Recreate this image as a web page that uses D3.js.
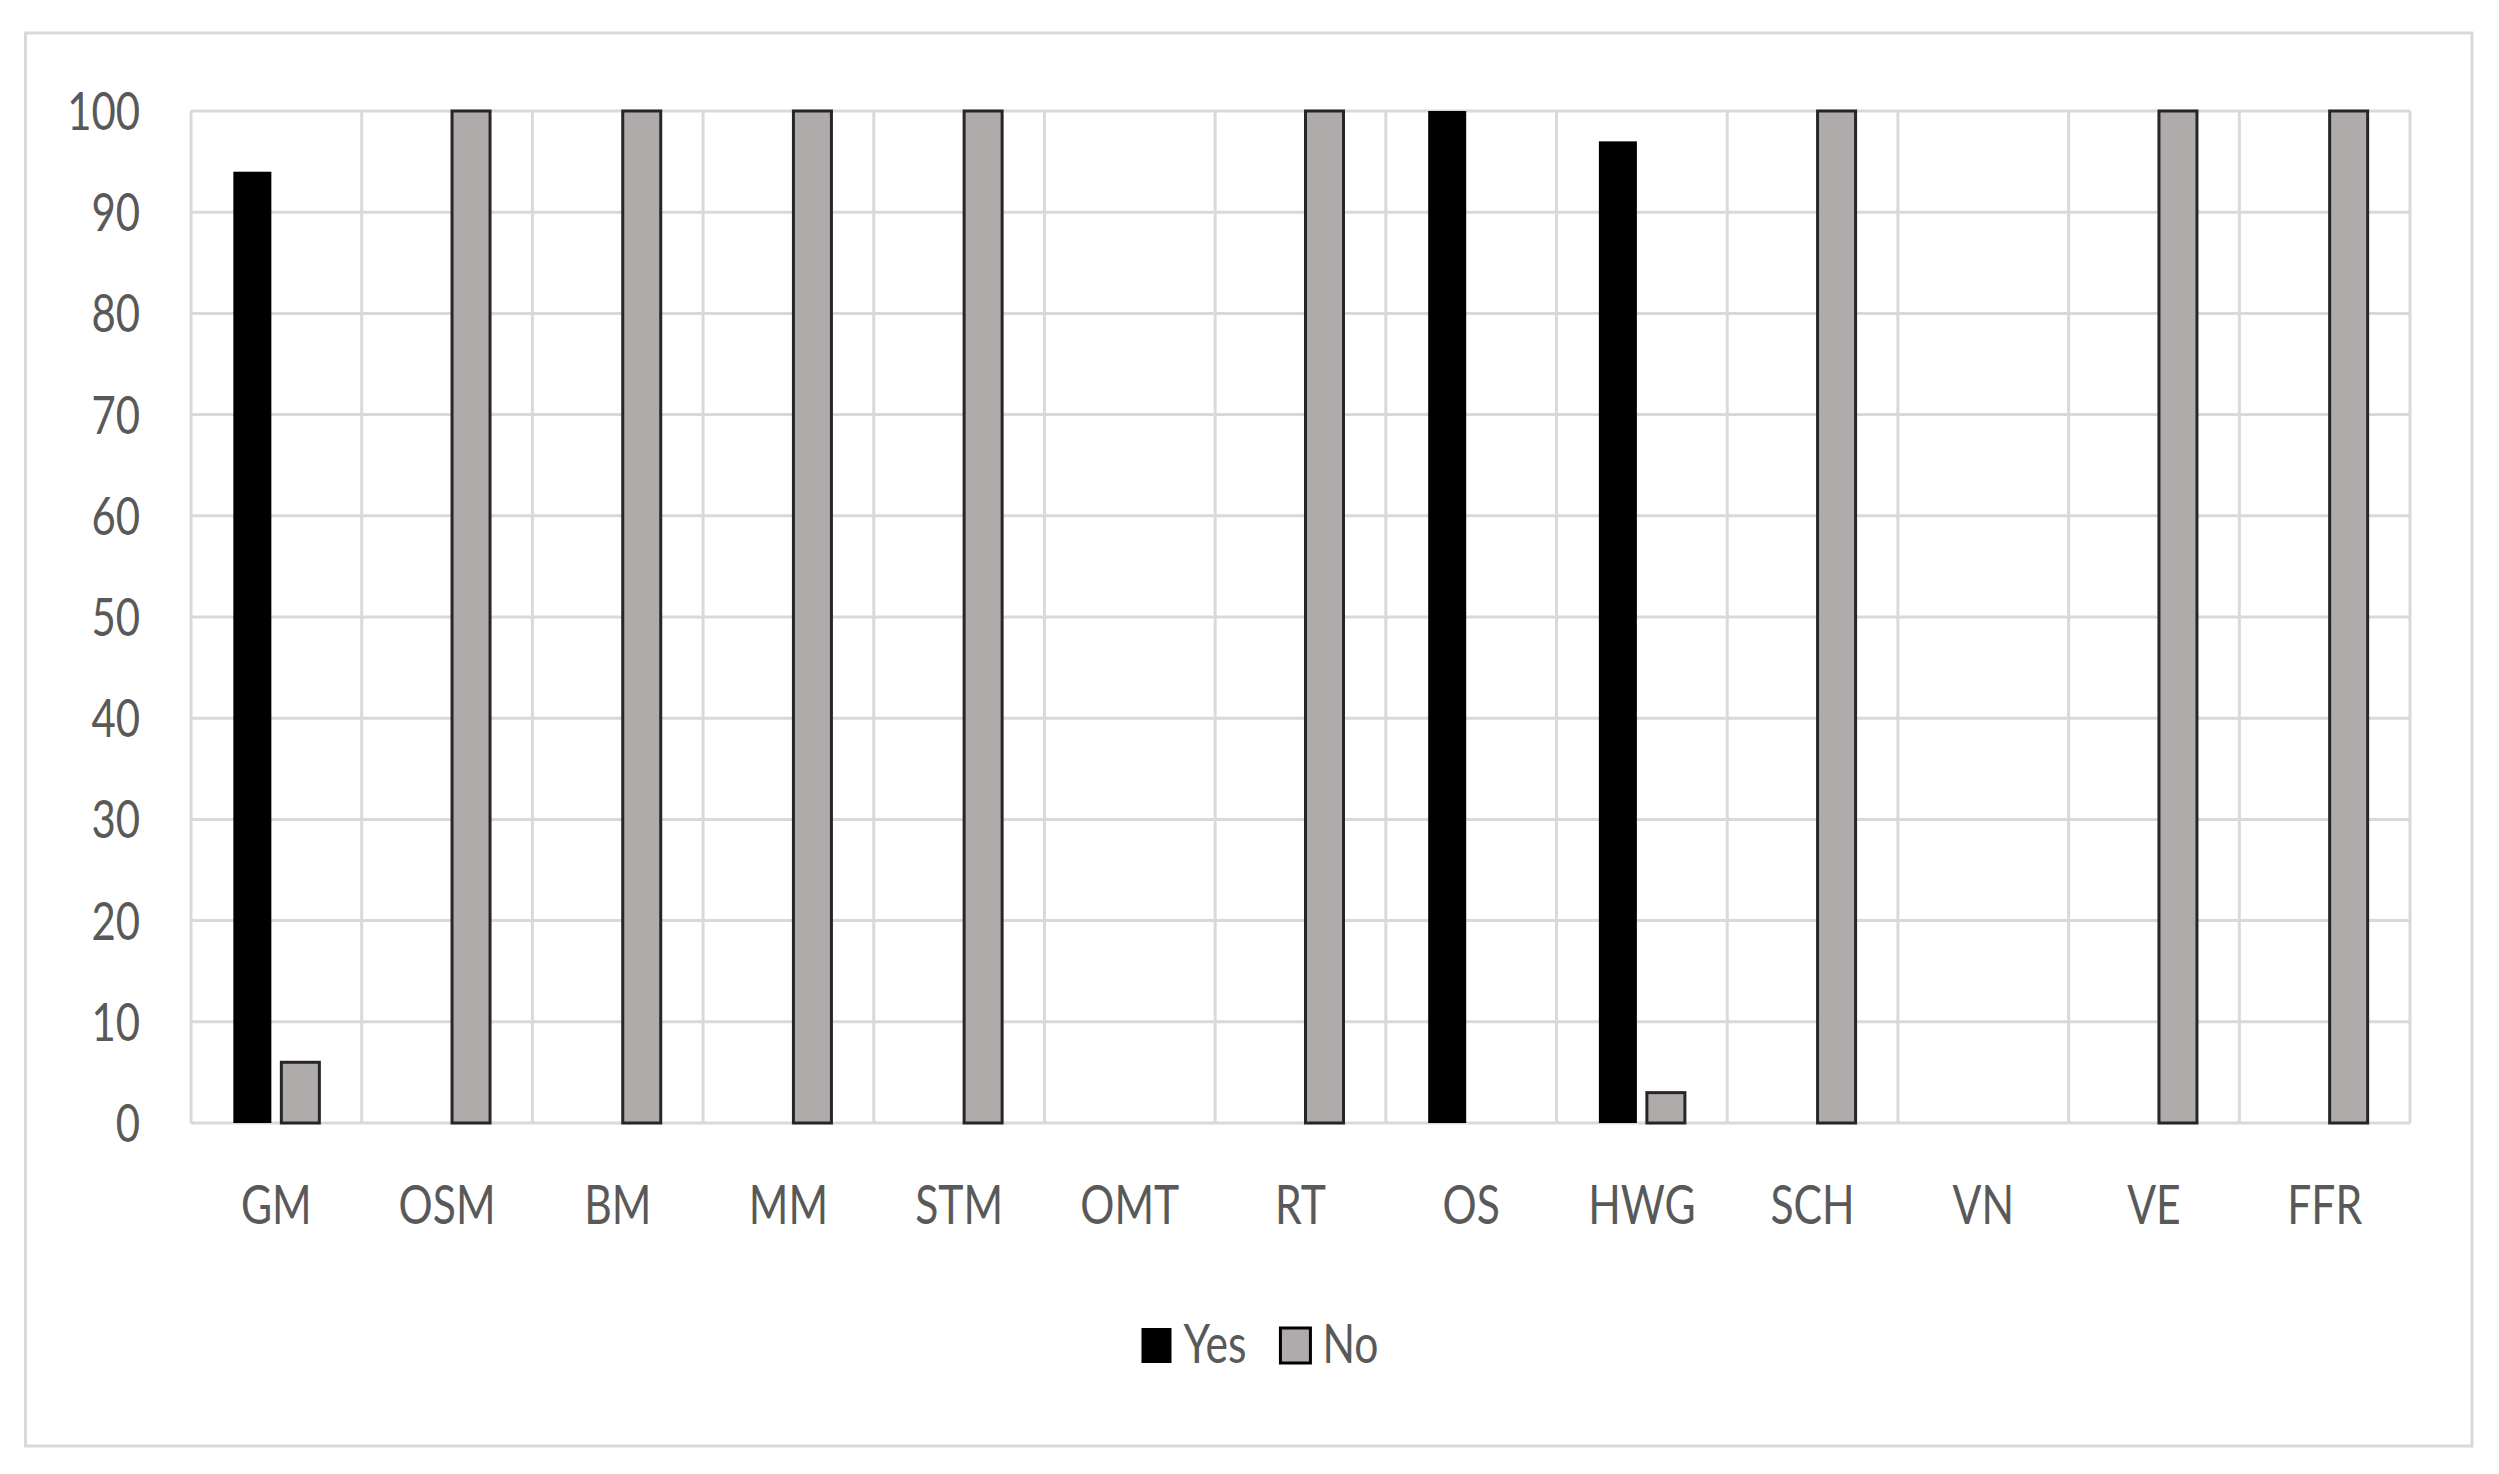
<!DOCTYPE html>
<html>
<head>
<meta charset="utf-8">
<script src="https://cdn.jsdelivr.net/npm/d3@7"></script>
<style>
  body { margin: 0; background: #fff; }
  text { font-family: Lato, "Open Sans", sans-serif; fill: #595959; }
</style>
</head>
<body>
<svg id="chart" width="2499" height="1474"></svg>
<script>
// categories and values
var categories = ["GM", "OSM", "BM", "MM", "STM", "OMT", "RT", "OS", "HWG", "SCH", "VN", "VE", "FFR"];
var series = ["Yes", "No"];
var yesValues = [94, 0, 0, 0, 0, 0, 0, 100, 97, 0, 0, 0, 0];
var noValues = [6, 100, 100, 100, 100, 0, 100, 0, 3, 100, 0, 100, 100];
var yTicks = [0, 10, 20, 30, 40, 50, 60, 70, 80, 90, 100];

var fills = { Yes: "#000000", No: "#afabab" };
var strokes = { Yes: "none", No: "#262626" };
var squash = 0.79; // text in the picture is narrower than it is tall

// plot box (note: "top" is taken by window.top)
var plotLeft = 191, plotRight = 2410, plotTop = 111, plotBottom = 1123;

var svg = d3.select("#chart");

// outer frame
svg.append("rect")
  .attr("x", 25.5).attr("y", 33)
  .attr("width", 2446.5).attr("height", 1413)
  .attr("fill", "#fff")
  .attr("stroke", "#d9d9d9")
  .attr("stroke-width", 3);

var x0 = d3.scaleBand()
  .domain(categories)
  .range([plotLeft, plotRight])
  .padding(0);

var x1 = d3.scaleBand()
  .domain(series)
  .range([0, x0.bandwidth()])
  .paddingInner(0.2083)
  .paddingOuter(0.882);

var y = d3.scaleLinear()
  .domain([0, 100])
  .range([plotBottom, plotTop]);

var grid = svg.append("g").attr("class", "grid");

// horizontal gridlines
grid.selectAll(".hline")
  .data(yTicks)
  .enter().append("line")
  .attr("class", "hline")
  .attr("x1", plotLeft).attr("x2", plotRight)
  .attr("y1", function(d) { return y(d); })
  .attr("y2", function(d) { return y(d); })
  .attr("stroke", "#d9d9d9")
  .attr("stroke-width", 3);

// vertical gridlines at category boundaries
var edges = categories.map(function(c) { return x0(c); }).concat([plotRight]);
grid.selectAll(".vline")
  .data(edges)
  .enter().append("line")
  .attr("class", "vline")
  .attr("x1", function(d) { return d; })
  .attr("x2", function(d) { return d; })
  .attr("y1", plotTop).attr("y2", plotBottom)
  .attr("stroke", "#d9d9d9")
  .attr("stroke-width", 3);

// bars
var rows = categories.map(function(c, i) {
  return { cat: c, values: [
    { key: "Yes", value: yesValues[i] },
    { key: "No", value: noValues[i] }
  ]};
});

var groups = svg.selectAll(".cat")
  .data(rows)
  .enter().append("g")
  .attr("class", "cat")
  .attr("transform", function(d) { return "translate(" + x0(d.cat) + ",0)"; });

groups.selectAll("rect")
  .data(function(d) { return d.values.filter(function(v) { return v.value > 0; }); })
  .enter().append("rect")
  .attr("x", function(d) { return x1(d.key); })
  .attr("width", x1.bandwidth())
  .attr("y", function(d) { return y(d.value); })
  .attr("height", function(d) { return y(0) - y(d.value); })
  .attr("fill", function(d) { return fills[d.key]; })
  .attr("stroke", function(d) { return strokes[d.key]; })
  .attr("stroke-width", 3);

// y tick labels
svg.selectAll(".ylab")
  .data(yTicks)
  .enter().append("g")
  .attr("class", "ylab")
  .attr("transform", function(d) { return "translate(140," + (y(d) + 19) + ") scale(" + squash + ",1)"; })
  .append("text")
  .attr("text-anchor", "end")
  .attr("font-size", 53)
  .text(function(d) { return d; });

// x category labels
svg.selectAll(".xlab")
  .data(categories)
  .enter().append("g")
  .attr("class", "xlab")
  .attr("transform", function(d) { return "translate(" + (x0(d) + x0.bandwidth() / 2) + ",1224) scale(" + squash + ",1)"; })
  .append("text")
  .attr("text-anchor", "middle")
  .attr("font-size", 54)
  .text(function(d) { return d; });

// legend
var legend = svg.append("g").attr("class", "legend");
var item = legend.selectAll(".item")
  .data(series)
  .enter().append("g")
  .attr("class", "item");

item.append("rect")
  .attr("x", 0).attr("y", -35)
  .attr("width", 30).attr("height", 35)
  .attr("fill", function(d) { return fills[d]; })
  .attr("stroke", function(d) { return d === "No" ? "#000" : "none"; })
  .attr("stroke-width", 3);

item.append("g")
  .attr("transform", "translate(42,0) scale(" + squash + ",1)")
  .append("text")
  .attr("font-size", 54)
  .text(function(d) { return d; });

var xpos = 0;
item.each(function() {
  var w = this.querySelector("text").getComputedTextLength() * squash;
  d3.select(this).attr("transform", "translate(" + xpos + ",0)");
  xpos += 42 + w + 34;
});
var legendWidth = xpos - 34;
legend.attr("transform", "translate(" + (1260 - legendWidth / 2) + ",1363)");
</script>
</body>
</html>
